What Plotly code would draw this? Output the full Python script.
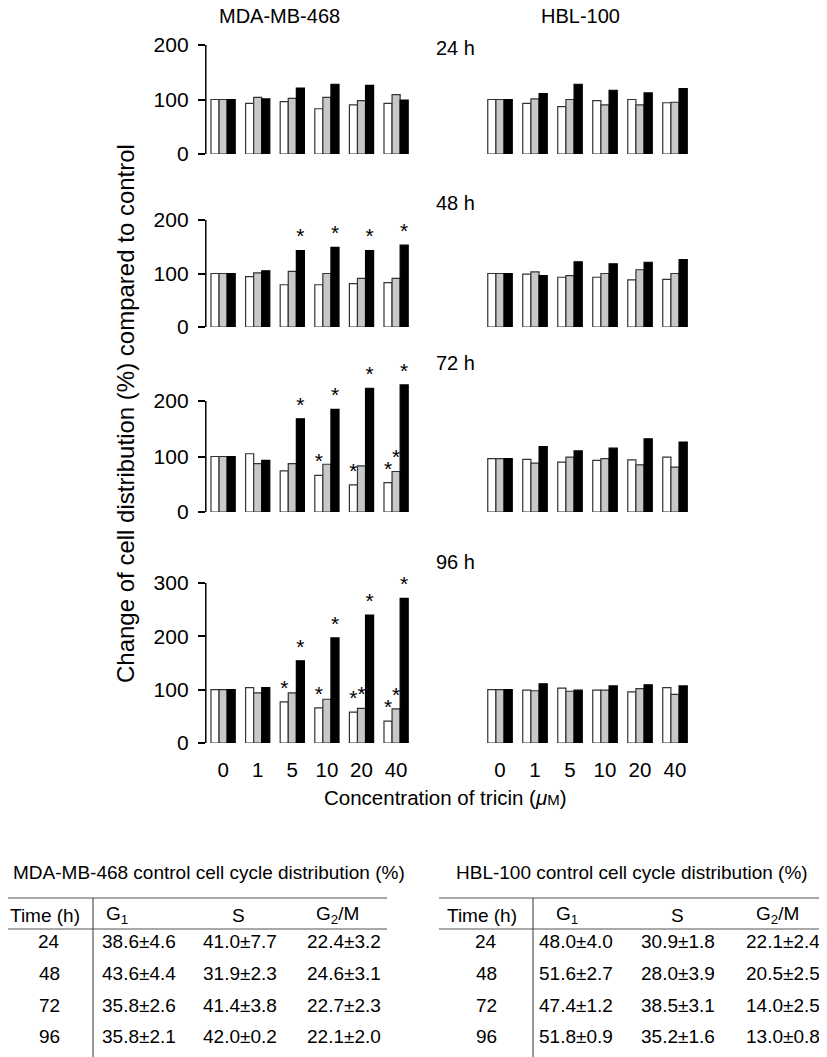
import plotly.graph_objects as go

# ---------------- data ----------------
concentrations = ["0", "1", "5", "10", "20", "40"]
time_labels = ["24 h", "48 h", "72 h", "96 h"]
cell_lines = ["MDA-MB-468", "HBL-100"]
phase_names = ["G1", "S", "G2/M"]

# MDA-MB-468 (% of control)
mda_24_g1 = [100, 93, 96, 83, 90, 93]
mda_24_s = [100, 104, 102, 104, 98, 109]
mda_24_g2m = [100, 101, 121, 128, 126, 99]
mda_48_g1 = [100, 94, 79, 79, 81, 83]
mda_48_s = [100, 101, 104, 100, 91, 91]
mda_48_g2m = [100, 105, 143, 149, 143, 153]
mda_72_g1 = [100, 105, 74, 66, 49, 53]
mda_72_s = [100, 87, 87, 86, 83, 73]
mda_72_g2m = [100, 93, 168, 185, 223, 229]
mda_96_g1 = [100, 104, 77, 66, 58, 41]
mda_96_s = [100, 94, 94, 82, 65, 64]
mda_96_g2m = [100, 104, 154, 197, 240, 271]

# HBL-100 (% of control)
hbl_24_g1 = [100, 93, 87, 98, 100, 94]
hbl_24_s = [100, 101, 100, 90, 90, 95]
hbl_24_g2m = [100, 111, 128, 117, 112, 120]
hbl_48_g1 = [100, 99, 93, 93, 88, 89]
hbl_48_s = [100, 103, 96, 100, 107, 100]
hbl_48_g2m = [100, 96, 122, 118, 121, 126]
hbl_72_g1 = [96, 95, 90, 93, 94, 99]
hbl_72_s = [96, 88, 99, 96, 85, 81]
hbl_72_g2m = [96, 118, 110, 115, 132, 126]
hbl_96_g1 = [100, 99, 103, 99, 96, 104]
hbl_96_s = [100, 98, 97, 99, 102, 91]
hbl_96_g2m = [100, 111, 99, 107, 109, 107]

# significance flags (1 = asterisk)
mda_48_g2m_sig = [0, 0, 1, 1, 1, 1]
mda_72_g1_sig = [0, 0, 0, 1, 1, 1]
mda_72_s_sig = [0, 0, 0, 0, 0, 1]
mda_72_g2m_sig = [0, 0, 1, 1, 1, 1]
mda_96_g1_sig = [0, 0, 1, 1, 1, 1]
mda_96_s_sig = [0, 0, 0, 0, 1, 1]
mda_96_g2m_sig = [0, 0, 1, 1, 1, 1]
no_sig = [0, 0, 0, 0, 0, 0]

y_ticks = [[0, 100, 200], [0, 100, 200], [0, 100, 200], [0, 100, 200, 300]]

# control tables
table_headers = ["Time (h)", "G<sub>1</sub>", "S", "G<sub>2</sub>/M"]
table_times = ["24", "48", "72", "96"]
mda_ctrl_g1 = ["38.6±4.6", "43.6±4.4", "35.8±2.6", "35.8±2.1"]
mda_ctrl_s = ["41.0±7.7", "31.9±2.3", "41.4±3.8", "42.0±0.2"]
mda_ctrl_g2m = ["22.4±3.2", "24.6±3.1", "22.7±2.3", "22.1±2.0"]
hbl_ctrl_g1 = ["48.0±4.0", "51.6±2.7", "47.4±1.2", "51.8±0.9"]
hbl_ctrl_s = ["30.9±1.8", "28.0±3.9", "38.5±3.1", "35.2±1.6"]
hbl_ctrl_g2m = ["22.1±2.4", "20.5±2.5", "14.0±2.5", "13.0±0.8"]

# ---------------- layout helpers ----------------
OFF = 8  # page body margin
W, H = 827 - OFF, 1057 - OFF
FONT = "Liberation Sans, Arial, Helvetica, sans-serif"


def px(x):
    return (x - OFF) / W


def py(y):
    return 1 - (y - OFF) / H


def note(text, x, y, size=20, **kw):
    d = dict(text=text, x=px(x), y=py(y), xref="paper", yref="paper",
             xanchor="center", yanchor="middle", showarrow=False,
             font=dict(family=FONT, size=size, color="black"))
    d.update(kw)
    return d


panels = {
    ("mda", 0): (mda_24_g1, mda_24_s, mda_24_g2m, no_sig, no_sig, no_sig),
    ("mda", 1): (mda_48_g1, mda_48_s, mda_48_g2m, no_sig, no_sig, mda_48_g2m_sig),
    ("mda", 2): (mda_72_g1, mda_72_s, mda_72_g2m, mda_72_g1_sig, mda_72_s_sig, mda_72_g2m_sig),
    ("mda", 3): (mda_96_g1, mda_96_s, mda_96_g2m, mda_96_g1_sig, mda_96_s_sig, mda_96_g2m_sig),
    ("hbl", 0): (hbl_24_g1, hbl_24_s, hbl_24_g2m, no_sig, no_sig, no_sig),
    ("hbl", 1): (hbl_48_g1, hbl_48_s, hbl_48_g2m, no_sig, no_sig, no_sig),
    ("hbl", 2): (hbl_72_g1, hbl_72_s, hbl_72_g2m, no_sig, no_sig, no_sig),
    ("hbl", 3): (hbl_96_g1, hbl_96_s, hbl_96_g2m, no_sig, no_sig, no_sig),
}

# pixel geometry per row: (zero pixel, top pixel, range max)
row_geom = [(154, 45, 200), (327, 220, 200), (512, 373.25, 250), (743, 583, 300)]
col_geom = {"mda": (205.8, 413.4), "hbl": (482.5, 692.5)}

fills = ["#ffffff", "#c8c8c8", "#000000"]
lines = ["#333333", "#333333", "#000000"]

fig = go.Figure()
layout_axes = {}
shapes = []
annotations = []

k = 0
for r in range(4):
    for ci, line in enumerate(["mda", "hbl"]):
        k += 1
        xa = "x" if k == 1 else f"x{k}"
        ya = "y" if k == 1 else f"y{k}"
        vals = panels[(line, r)]
        for p in range(3):
            fig.add_trace(go.Bar(
                x=concentrations, y=vals[p], name=phase_names[p],
                xaxis=xa, yaxis=ya,
                marker=dict(color=fills[p], line=dict(color=lines[p], width=1.2)),
                text=["*" if s else "" for s in vals[3 + p]],
                textposition="outside", constraintext="none", cliponaxis=False,
                textfont=dict(family=FONT, size=21, color="black"),
                showlegend=False, hoverinfo="skip",
            ))
        z, t, rmax = row_geom[r]
        x0, x1 = col_geom[line]
        xkey = "xaxis" if k == 1 else f"xaxis{k}"
        ykey = "yaxis" if k == 1 else f"yaxis{k}"
        layout_axes[xkey] = dict(
            domain=[px(x0), px(x1)], anchor=ya, type="category", automargin=False,
            categoryorder="array", categoryarray=concentrations,
            showline=False, showgrid=False, zeroline=False, ticks="",
            showticklabels=(r == 3), ticklabelstandoff=12,
            tickfont=dict(family=FONT, size=20.5, color="black"),
        )
        layout_axes[ykey] = dict(
            domain=[py(z), py(t)], anchor=xa, range=[0, rmax], automargin=False,
            showgrid=False, zeroline=False, showline=False,
            tickvals=y_ticks[r] if line == "mda" else [],
            ticks="outside" if line == "mda" else "", ticklen=7, tickwidth=1.5,
            tickcolor="black", ticklabelstandoff=5,
            showticklabels=(line == "mda"),
            tickfont=dict(family=FONT, size=21, color="black"),
        )
        if line == "mda":
            shapes.append(dict(type="line", xref=f"{xa} domain", yref=ya,
                               x0=0, x1=0, y0=0, y1=max(y_ticks[r]),
                               line=dict(color="black", width=1.5)))

# text annotations for the chart
annotations.append(note(cell_lines[0], 279, 16))
annotations.append(note(cell_lines[1], 580, 16))
for r, ty in enumerate([48, 203, 363, 562]):
    annotations.append(note(time_labels[r], 434, ty, xanchor="left"))
annotations.append(note("Change of cell distribution (%) compared to control", 125, 414,
                        size=24, textangle=-90))
annotations.append(note("Concentration of tricin (<i>μ</i><span style='font-size:15px'>M</span>)",
                        445, 797, size=20.5))


# ---------------- tables ----------------
def add_table(title, title_x, x_left, x_right, x_vline, time_x, header_xs, value_xs, cols):
    annotations.append(note(title, title_x, 872, size=19))
    for yline in (898, 929):
        shapes.append(dict(type="line", xref="paper", yref="paper",
                           x0=px(x_left), x1=px(x_right), y0=py(yline), y1=py(yline),
                           line=dict(color="#555555", width=1.2)))
    shapes.append(dict(type="line", xref="paper", yref="paper",
                       x0=px(x_vline), x1=px(x_vline), y0=py(898), y1=py(1057),
                       line=dict(color="#555555", width=1.2)))
    annotations.append(note(table_headers[0], time_x, 915, size=19))
    for hx, htxt in zip(header_xs, table_headers[1:]):
        annotations.append(note(htxt, hx, 915, size=19))
    for i, ry in enumerate([941, 973, 1005, 1036]):
        annotations.append(note(table_times[i], time_x + 4, ry, size=19))
        for vx, col in zip(value_xs, cols):
            annotations.append(note(col[i], vx, ry, size=19))


add_table("MDA-MB-468 control cell cycle distribution (%)", 209, 0, 387, 93, 45,
          [117, 238, 337], [139, 240, 344], [mda_ctrl_g1, mda_ctrl_s, mda_ctrl_g2m])
add_table("HBL-100 control cell cycle distribution (%)", 632, 439, 827, 533, 482,
          [567, 677, 777], [576, 678, 783], [hbl_ctrl_g1, hbl_ctrl_s, hbl_ctrl_g2m])

fig.update_layout(
    width=W, height=H, margin=dict(l=0, r=0, t=0, b=0, autoexpand=False),
    paper_bgcolor="white", plot_bgcolor="white",
    barmode="group", bargap=0.3, bargroupgap=0,
    showlegend=False, shapes=shapes, annotations=annotations,
    font=dict(family=FONT, color="black"),
    **layout_axes,
)

fig.write_html("out.html")
